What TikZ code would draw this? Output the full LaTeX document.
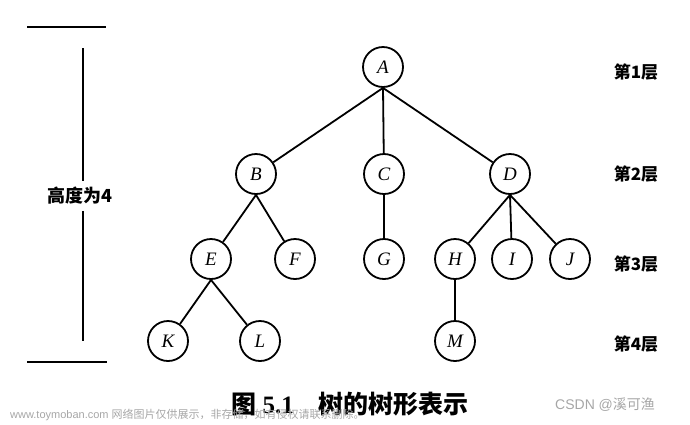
\documentclass[tikz,border=0pt]{standalone}
\usepackage{fontspec}
\setmainfont{Liberation Serif}
\newfontfamily\cjk{Noto Sans CJK SC}
\newfontfamily\wmfont{Liberation Sans}
\begin{document}
\begin{tikzpicture}[x=1pt,y=-1pt,
  tnode/.style={circle,draw,line width=1.8pt,minimum size=40pt,inner sep=0pt,font=\fontsize{19}{19}\selectfont\itshape},
  edge/.style={line width=1.8pt},
  lvl/.style={font=\cjk\bfseries\fontsize{17}{17}\selectfont},
  hline/.style={line width=1.8pt},
  wm/.style={text=black!35,anchor=west,inner sep=0pt}]
\useasboundingbox (0,0) rectangle (690,424);
% nodes
\node[tnode] (A) at (383,67) {A};
\node[tnode] (B) at (256,174) {B};
\node[tnode] (C) at (384,174) {C};
\node[tnode] (D) at (510,174) {D};
\node[tnode] (E) at (211,259) {E};
\node[tnode] (F) at (295,259) {F};
\node[tnode] (G) at (384,259) {G};
\node[tnode] (H) at (455,259) {H};
\node[tnode] (I) at (512,259) {I};
\node[tnode] (J) at (570,259) {J};
\node[tnode] (K) at (168,341) {K};
\node[tnode] (L) at (260,341) {L};
\node[tnode] (M) at (455,341) {M};
% edges
\draw[edge] (A.south) -- (B);
\draw[edge] (A.south) -- (C);
\draw[edge] (A.south) -- (D);
\draw[edge] (B.south) -- (E);
\draw[edge] (B.south) -- (F);
\draw[edge] (C) -- (G);
\draw[edge] (D.south) -- (H);
\draw[edge] (D.south) -- (I);
\draw[edge] (D.south) -- (J);
\draw[edge] (E.south) -- (K);
\draw[edge] (E.south) -- (L);
\draw[edge] (H) -- (M);
% level labels
\node[lvl] (l1) at (636,72) {第1层};
\node[lvl] (l2) at (636,174) {第2层};
\node[lvl] (l3) at (636,264) {第3层};
\node[lvl] (l4) at (636,344) {第4层};
% height marker
\coordinate (t1) at (27,27); \coordinate (t2) at (106,27);
\coordinate (b1) at (27,362); \coordinate (b2) at (107,362);
\draw[hline] (t1) -- (t2);
\draw[hline] (b1) -- (b2);
\node[lvl,font=\cjk\bfseries\fontsize{18}{18}\selectfont,inner sep=6pt] (h) at (80,196) {高度为4};
\coordinate (v1) at (83,48); \coordinate (v2) at (83,341);
\draw[hline] (v1) -- (v1 |- h.north);
\draw[hline] (v1 |- h.south) -- (v2);
% caption
\node[font=\fontsize{25}{25}\selectfont] (cap) at (350,404) {{\cjk\bfseries 图} \textbf{5.1}\hspace{1em}{\cjk\bfseries 树的树形表示}};
% watermarks
\node[wm,font=\wmfont\fontsize{11}{11}\selectfont] (w1) at (10,415) {www.toymoban.com {\cjk 网络图片仅供展示，非存储，如有侵权请联系删除。}};
\node[wm,font=\wmfont\fontsize{14}{14}\selectfont] (w2) at (555,405) {CSDN @{\cjk 溪可渔}};
\end{tikzpicture}
\end{document}
